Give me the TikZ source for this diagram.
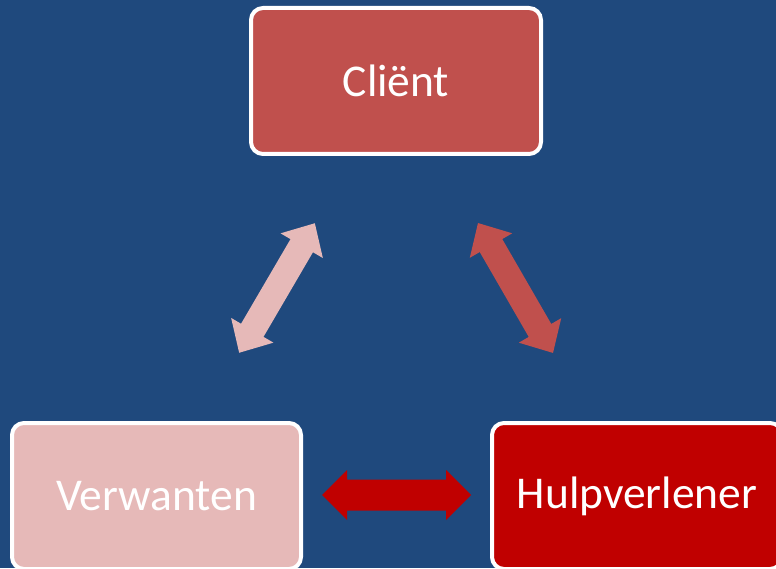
\documentclass[tikz,border=0pt]{standalone}
\usepackage{fontspec}
\setmainfont{Carlito}
\definecolor{bgblue}{HTML}{1F497D}
\definecolor{clientred}{HTML}{C0504D}
\definecolor{verwpink}{HTML}{E6B9B8}
\definecolor{hulpred}{HTML}{C00000}
\newcommand\DblArrow[7]{%
  \fill[#7, shift={(#1)}, rotate=#2]
    ({-#3/2},0) -- ({-#3/2+#6},#5) -- ({-#3/2+#6},#4) -- ({#3/2-#6},#4) --
    ({#3/2-#6},#5) -- ({#3/2},0) -- ({#3/2-#6},-#5) -- ({#3/2-#6},-#4) --
    ({-#3/2+#6},-#4) -- ({-#3/2+#6},-#5) -- cycle;}
\begin{document}
\begin{tikzpicture}[x=1pt,y=1pt,
  boxstyle/.style={draw=white, line width=4pt, rounded corners=12pt,
    minimum width=290pt, minimum height=146pt, text=white,
    font=\fontsize{45.5}{54}\selectfont}]
\fill[bgblue] (0,0) rectangle (776,568);
\useasboundingbox (0,0) rectangle (776,568);
\begin{scope}
\clip (0,0) rectangle (776,568);
\node[boxstyle, fill=clientred] (client) at (396,487) {Cliënt};
\node[boxstyle, fill=verwpink, minimum width=289pt] (verw) at (156.5,72) {Verwanten};
\node[boxstyle, fill=hulpred] (hulp) at (637,72) {Hulpverlener};
\end{scope}
\coordinate (arrL) at (277,280);
\coordinate (arrR) at (515.5,280);
\coordinate (arrB) at (396.5,73);
\DblArrow{arrL}{59.7}{150}{13}{24.5}{26}{verwpink}
\DblArrow{arrR}{-60}{150}{13}{24.5}{26}{clientred}
\DblArrow{arrB}{0}{149}{15.5}{25}{25}{hulpred}
\end{tikzpicture}
\end{document}
